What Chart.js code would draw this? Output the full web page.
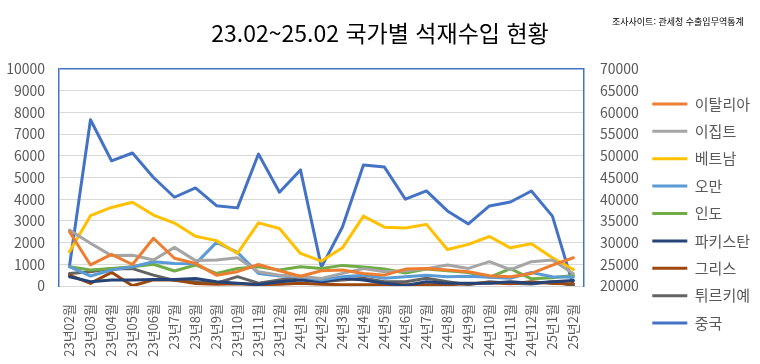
<!DOCTYPE html>
<html lang="ko">
<head>
<meta charset="utf-8">
<script src="https://cdn.jsdelivr.net/npm/chart.js@4"></script>
<style>
    html, body { margin: 0; padding: 0; background: #fff; }
    #wrap { position: relative; width: 760px; height: 364px; }
    #title {
        position: absolute; left: 0; top: 17px; width: 760px;
        text-align: center; font: 23px/30px "Noto Sans CJK KR"; color: #000;
    }
    #source {
        position: absolute; left: 612px; top: 16px;
        font: 9px/12px "Noto Sans CJK KR"; color: #000;
    }
    canvas { position: absolute; left: 0; top: 0; }
</style>
</head>
<body>
<div id="wrap">
    <canvas id="chart" width="760" height="364"></canvas>
    <div id="title">23.02~25.02 국가별 석재수입 현황</div>
    <div id="source">조사사이트: 관세청 수출입무역통계</div>
</div>
<script>
// 월별 라벨
const months = ['23년02월', '23년03월', '23년04월', '23년05월', '23년06월', '23년7월', '23년8월', '23년9월',
    '23년10월', '23년11월', '23년12월', '24년1월', '24년2월', '24년3월', '24년4월', '24년5월', '24년6월',
    '24년7월', '24년8월', '24년9월', '24년10월', '24년11월', '24년12월', '25년1월', '25년2월'];

// 국가별 수입량 (왼쪽 축)
const italy    = [2500, 970, 1460, 990, 2200, 1280, 1040, 500, 660, 990, 700, 450, 700, 740, 580, 500, 780, 810, 740, 660, 470, 430, 580, 965, 1300];
const egypt    = [2580, 1970, 1400, 1420, 1200, 1780, 1170, 1200, 1300, 660, 500, 450, 350, 580, 800, 660, 700, 800, 970, 810, 1120, 750, 1120, 1200, 560];
const vietnam  = [1580, 3240, 3620, 3860, 3270, 2900, 2290, 2090, 1500, 2910, 2650, 1500, 1150, 1760, 3220, 2710, 2670, 2840, 1680, 1920, 2280, 1760, 1950, 1300, 760];
const oman     = [890, 460, 740, 890, 1120, 1040, 1020, 2010, 1550, 580, 460, 430, 280, 430, 500, 360, 430, 500, 430, 450, 400, 360, 620, 430, 400];
const india    = [890, 740, 810, 890, 1000, 690, 970, 580, 810, 890, 740, 890, 810, 950, 880, 780, 600, 780, 700, 620, 400, 800, 330, 380, 480];
const pakistan = [430, 200, 280, 280, 300, 300, 350, 200, 130, 70, 200, 280, 200, 360, 280, 130, 20, 200, 130, 130, 130, 200, 130, 200, 250];
const greece   = [500, 120, 630, 10, 280, 280, 120, 80, 100, 60, 80, 130, 80, 60, 60, 60, 60, 60, 60, 100, 150, 100, 200, 120, 100];
const turkiye  = [580, 660, 810, 800, 500, 250, 200, 130, 430, 130, 280, 430, 200, 280, 360, 200, 200, 360, 200, 60, 200, 130, 90, 200, 20];

// 중국 (오른쪽 축)
const china    = [24600, 58300, 48850, 50650, 45000, 40450, 42600, 38500, 38000, 50400, 41600, 46750, 24350,
    33600, 47900, 47400, 40000, 41900, 37300, 34300, 38450, 39350, 41900, 36100, 20000];

const FONT = '"Noto Sans CJK KR", "Noto Sans", sans-serif';
const TEXT = '#595959';

function series(label, data, color, axis) {
    return {
        label: label,
        data: data,
        borderColor: color,
        backgroundColor: color,
        borderWidth: 3,
        borderCapStyle: 'round',
        borderJoinStyle: 'round',
        pointRadius: 0,
        tension: 0,
        fill: false,
        yAxisID: axis || 'y'
    };
}

new Chart(document.getElementById('chart'), {
    type: 'line',
    data: {
        labels: months,
        datasets: [
            series('이탈리아', italy, '#ED7D31'),
            series('이집트', egypt, '#A5A5A5'),
            series('베트남', vietnam, '#FFC000'),
            series('오만', oman, '#5B9BD5'),
            series('인도', india, '#70AD47'),
            series('파키스탄', pakistan, '#264478'),
            series('그리스', greece, '#9E480E'),
            series('튀르키예', turkiye, '#636363'),
            series('중국', china, '#4472C4', 'y1')
        ]
    },
    options: {
        responsive: false,
        animation: false,
        layout: { padding: { top: 69, left: 0, right: 0, bottom: 6 } },
        plugins: {
            legend: {
                position: 'right',
                labels: {
                    usePointStyle: true,
                    pointStyle: 'line',
                    pointStyleWidth: 35,
                    padding: 12.4,
                    color: TEXT,
                    font: { family: FONT, size: 15 }
                }
            },
            title: { display: false },
            tooltip: { enabled: false }
        },
        scales: {
            x: {
                offset: true,
                grid: { display: false },
                border: { color: '#D9D9D9' },
                ticks: {
                    autoSkip: false,
                    minRotation: 90,
                    maxRotation: 90,
                    padding: 10,
                    color: TEXT,
                    font: { family: FONT, size: 13 }
                },
                // 라벨이 잘리지 않도록 축 높이 고정
                afterFit: (s) => { s.height = 72; }
            },
            y: {
                position: 'left',
                min: 0,
                max: 10000,
                ticks: {
                    stepSize: 1000,
                    padding: 14,
                    color: TEXT,
                    font: { family: FONT, size: 14 },
                    callback: (v) => String(v)
                },
                grid: {
                    drawTicks: false,
                    color: (ctx) => ctx.tick && ctx.tick.value === 10000 ? '#4472C4' : '#D9D9D9',
                    lineWidth: (ctx) => ctx.tick && ctx.tick.value === 10000 ? 1.5 : 1
                },
                border: { color: '#4472C4', width: 1.5 },
                afterFit: (s) => { s.width = 59; }
            },
            y1: {
                position: 'right',
                min: 20000,
                max: 70000,
                ticks: {
                    stepSize: 5000,
                    padding: 16,
                    color: TEXT,
                    font: { family: FONT, size: 14 },
                    callback: (v) => String(v)
                },
                grid: { display: false, drawTicks: false },
                border: { color: '#4472C4', width: 1.5 },
                afterFit: (s) => { s.width = 56; }
            }
        }
    }
});
</script>
</body>
</html>
